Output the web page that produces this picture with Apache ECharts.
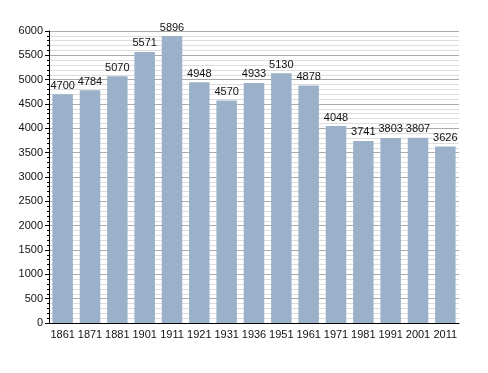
<!DOCTYPE html>
<html><head><meta charset="utf-8">
<script src="https://cdn.jsdelivr.net/npm/echarts@6/dist/echarts.min.js"></script>
<style>html,body{margin:0;padding:0;background:#fff}#c{width:488px;height:373px}</style>
</head><body><div id="c"></div>
<script>
var years = ['1861','1871','1881','1901','1911','1921','1931','1936','1951','1961','1971','1981','1991','2001','2011'];
var population = [4700,4784,5070,5571,5896,4948,4570,4933,5130,4878,4048,3741,3803,3807,3626];
var yTicks = {min:0, max:6000, interval:500};
var chart = echarts.init(document.getElementById('c'), null, {renderer:'canvas'});
chart.setOption({
  animation:false,
  grid:{left:49, right:29, top:31, bottom:50},
  xAxis:{type:'category', data:years,
    axisLine:{show:true, lineStyle:{color:'#000', width:1}},
    axisTick:{show:false},
    axisLabel:{interval:0, color:'#111', fontSize:11, fontFamily:'Liberation Sans, Arial', margin:6}},
  yAxis:{type:'value', min:yTicks.min, max:yTicks.max, interval:yTicks.interval,
    axisLine:{show:true, lineStyle:{color:'#000', width:1}},
    axisTick:{show:true, length:4, lineStyle:{color:'#000'}},
    minorTick:{show:true, splitNumber:5, length:2, lineStyle:{color:'#000'}},
    axisLabel:{color:'#111', fontSize:11, fontFamily:'Liberation Sans, Arial', margin:6,
      formatter:function(v){return String(v);}},
    splitLine:{show:true, lineStyle:{color:'#aaaaaa', width:1}},
    minorSplitLine:{show:true, lineStyle:{color:'#dddddd', width:1}}},
  series:[{type:'bar', data:population, barCategoryGap:'25%',
    itemStyle:{color:'#9bb1ca'},
    label:{show:true, position:'top', distance:3, color:'#111', fontSize:11, fontFamily:'Liberation Sans, Arial'}}]
});
</script></body></html>
